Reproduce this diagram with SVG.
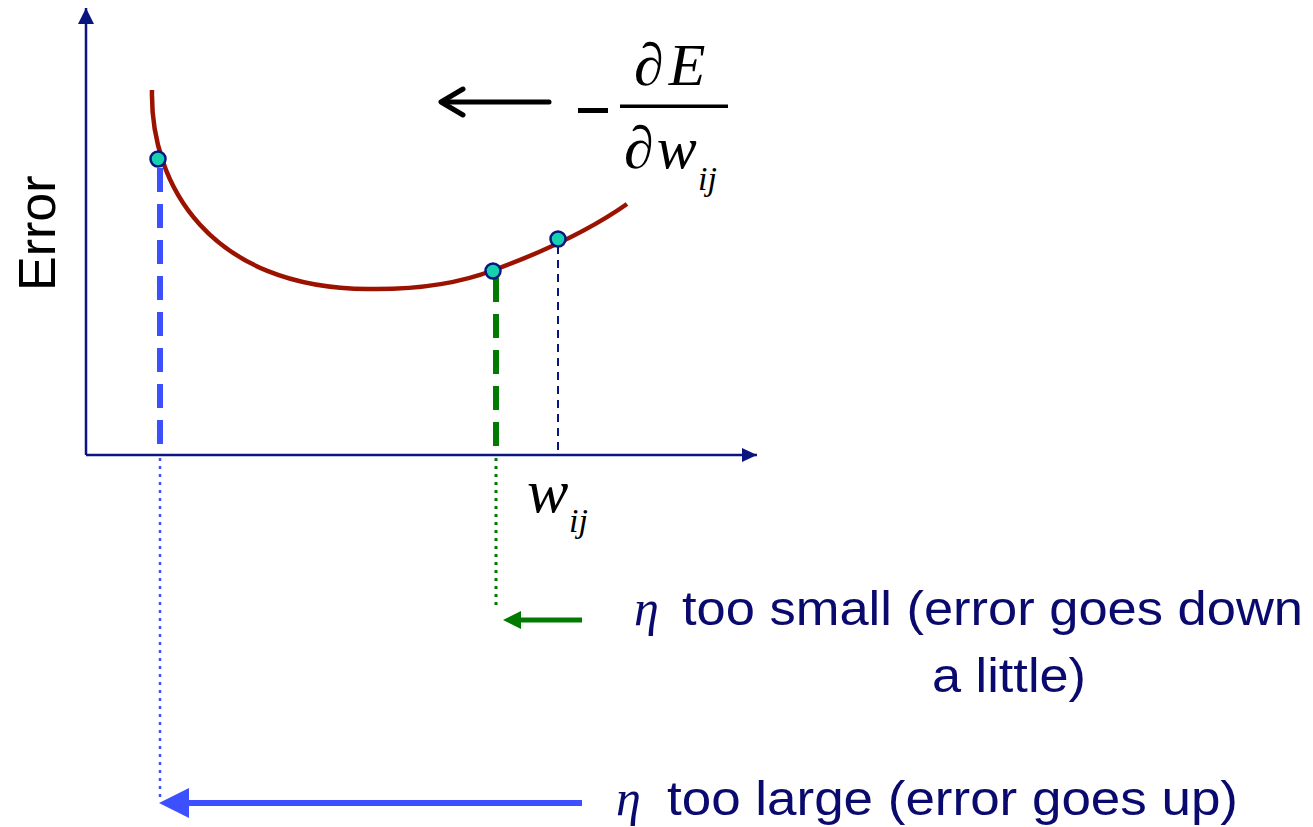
<svg xmlns="http://www.w3.org/2000/svg" width="1313" height="827" viewBox="0 0 1313 827">
<style>
.lbl{font-family:"Liberation Sans",Arial,sans-serif;font-size:48px;fill:#0a0a6e}
.math{font-family:"Liberation Serif","Times New Roman",serif;fill:#000}
.eta{font-family:"Liberation Serif","Times New Roman",serif;font-style:italic;font-size:50px;fill:#0a0a6e}
.dot{fill:#14d2b0;stroke:#0a1580;stroke-width:2.5}
</style>
<defs>
<marker id="navyHead" markerWidth="16" markerHeight="16" refX="16" refY="8" orient="auto" markerUnits="userSpaceOnUse">
<path d="M0,0 L16,8 L0,16 Z" fill="#0a1580"/>
</marker>
<marker id="navyHeadX" markerWidth="16" markerHeight="16" refX="15" refY="8" orient="auto" markerUnits="userSpaceOnUse">
<path d="M0,1 L15,8 L0,15 Z" fill="#0a1580"/>
</marker>
</defs>
<g id="axes" fill="none" stroke="#0a1580" stroke-width="2.5">
<line x1="86" y1="455" x2="86" y2="8" marker-end="url(#navyHead)"/>
<line x1="86" y1="455" x2="757" y2="455" marker-end="url(#navyHeadX)"/>
</g>
<g id="connectors" fill="none">
<line x1="160" y1="168" x2="160" y2="455" stroke="#3c50ff" stroke-width="6" stroke-dasharray="24 12"/>
<line x1="160" y1="458" x2="160" y2="800" stroke="#3c50ff" stroke-width="2.5" stroke-dasharray="3 5"/>
<line x1="496" y1="278" x2="496" y2="455" stroke="#007a00" stroke-width="6" stroke-dasharray="24 12"/>
<line x1="496" y1="458" x2="496" y2="608" stroke="#007a00" stroke-width="3" stroke-dasharray="3 5"/>
<line x1="558" y1="246" x2="558" y2="450" stroke="#0a1580" stroke-width="2" stroke-dasharray="8 6"/>
<g id="green-arrow">
<line x1="582" y1="620" x2="518" y2="620" stroke="#007a00" stroke-width="5"/>
<path d="M503,620 L521,611 L521,629 Z" fill="#007a00"/>
</g>
<g id="blue-arrow">
<line x1="582" y1="803" x2="185" y2="803" stroke="#3c50ff" stroke-width="6"/>
<path d="M159,803 L189,788 L189,818 Z" fill="#3c50ff"/>
</g>
<g id="black-arrow" stroke="#000" stroke-width="5" stroke-linecap="round" stroke-linejoin="round">
<line x1="549" y1="102" x2="443" y2="102"/>
<polyline points="463,89 441,102 463,115"/>
</g>
</g>
<g id="curve">
<path d="M152,90 C150,185 210,288 368,289 C430,290 468,280 494,270 C540,253 590,230 627,204" fill="none" stroke="#9c1200" stroke-width="4.5"/>
</g>
<g id="points">
<circle class="dot" cx="158" cy="159" r="7.5"/>
<circle class="dot" cx="493" cy="271" r="7.5"/>
<circle class="dot" cx="558" cy="239" r="7.5"/>
</g>
<g id="y-label">
<text class="lbl" transform="translate(55,291) rotate(-90)" style="fill:#000;font-size:52px">Error</text>
</g>
<g id="gradient-label">
<rect x="578" y="108" width="30" height="5" fill="#000"/>
<rect x="620" y="104.5" width="108" height="3.5" fill="#000"/>
<text class="math" x="634" y="85" font-size="60">∂<tspan font-style="italic" dx="5">E</tspan></text>
<text class="math" x="624" y="168" font-size="60">∂<tspan font-style="italic" dx="3">w</tspan></text>
<text class="math" x="698" y="190" font-size="34" font-style="italic">ij</text>
</g>
<g id="x-label">
<text class="math" x="527" y="512" font-size="62" font-style="italic">w</text>
<text class="math" x="569" y="532" font-size="34" font-style="italic">ij</text>
</g>
<g id="small-label">
<text class="eta" x="634" y="625">η</text>
<text class="lbl" x="682" y="625" textLength="621" lengthAdjust="spacingAndGlyphs">too small (error goes down</text>
<text class="lbl" x="932" y="692" textLength="154" lengthAdjust="spacingAndGlyphs">a little)</text>
</g>
<g id="large-label">
<text class="eta" x="616" y="815">η</text>
<text class="lbl" x="667" y="815" textLength="571" lengthAdjust="spacingAndGlyphs">too large (error goes up)</text>
</g>
</svg>
